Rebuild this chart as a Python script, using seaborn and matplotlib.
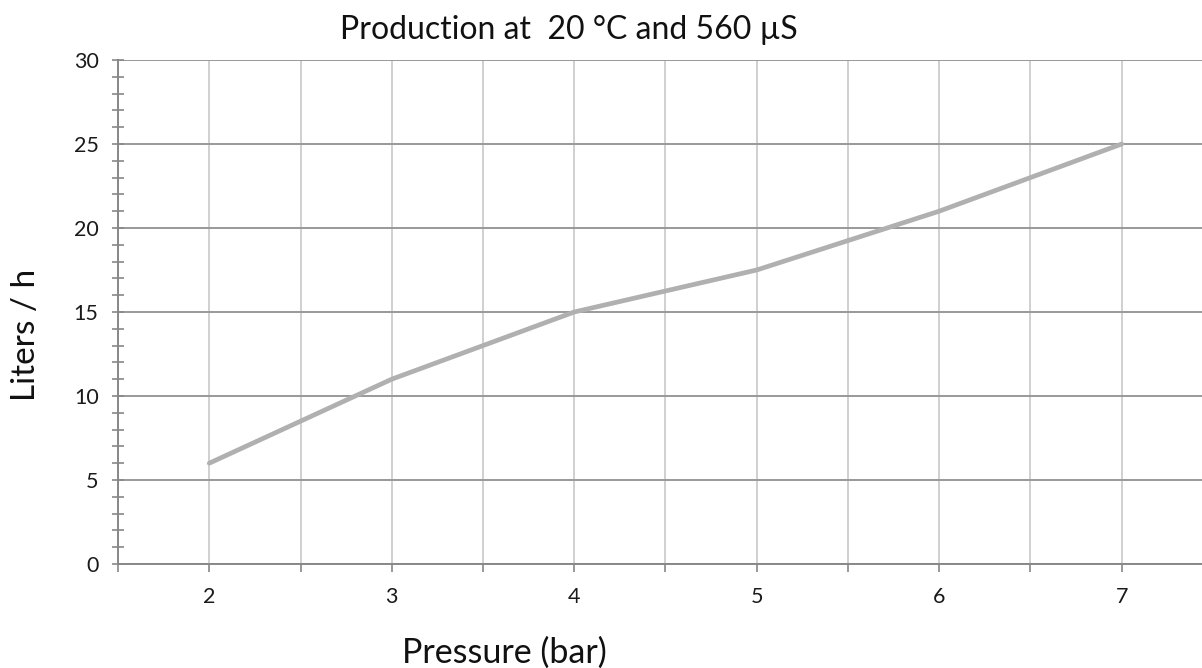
import matplotlib
matplotlib.use("Agg")
import matplotlib.pyplot as plt
from matplotlib.ticker import MultipleLocator
import seaborn as sns
import pandas as pd

# values
pressure = [2, 3, 4, 5, 6, 7]
liters_per_hour = [6, 11, 15, 17.5, 21, 25]

df = pd.DataFrame({"pressure": pressure, "liters": liters_per_hour})

sns.set_style("white")
plt.rcParams['font.family'] = ['Lato', 'DejaVu Sans']

fig = plt.figure(figsize=(12.02, 6.68), dpi=100)
ax = fig.add_axes([0.0982, 0.1557, 0.9018, 0.7545])

sns.lineplot(data=df, x="pressure", y="liters", ax=ax,
             color="#b0b0b0", linewidth=3.4, zorder=3)

ax.set_xlim(1.5, 7.44)
ax.set_ylim(0, 30)
ax.xaxis.set_major_locator(MultipleLocator(1))
ax.xaxis.set_minor_locator(MultipleLocator(0.5))
ax.yaxis.set_major_locator(MultipleLocator(5))
ax.yaxis.set_minor_locator(MultipleLocator(1))

# grid: light verticals every half bar, darker horizontals every 5
ax.grid(axis="x", which="both", color="#c8c8c8", linewidth=1.2, zorder=1)
ax.grid(axis="y", which="major", color="#999999", linewidth=1.4, zorder=1)
ax.set_axisbelow(True)

for side in ["top", "right"]:
    ax.spines[side].set_visible(False)
for side in ["left", "bottom"]:
    ax.spines[side].set_color("#888888")
    ax.spines[side].set_linewidth(1.4)

ax.tick_params(axis="x", which="both", bottom=True, direction="out", length=5.8,
               color="#888888", width=1.2)
ax.tick_params(axis="x", which="major", labelsize=15.5, pad=11, labelcolor="#1a1a1a")
ax.tick_params(axis="y", which="both", left=True, direction="inout", length=8,
               color="#888888", width=1.2)
ax.tick_params(axis="y", which="major", labelsize=15.5, pad=10, labelcolor="#1a1a1a")

ax.set_xlabel("")
ax.set_ylabel("")

fig.text(0.473, 1 - 39 / 668, "Production at  20 °C and 560 µS", ha="center",
         va="baseline", fontsize=23, color="#111111")
fig.text(0.42, 5 / 668, "Pressure (bar)", ha="center", va="baseline",
         fontsize=24.5, color="#111111")
fig.text(0.022, 1 - 335 / 668, "Liters / h", ha="center", va="center",
         rotation=90, fontsize=24, color="#111111")

fig.savefig("out.png", dpi=100)
